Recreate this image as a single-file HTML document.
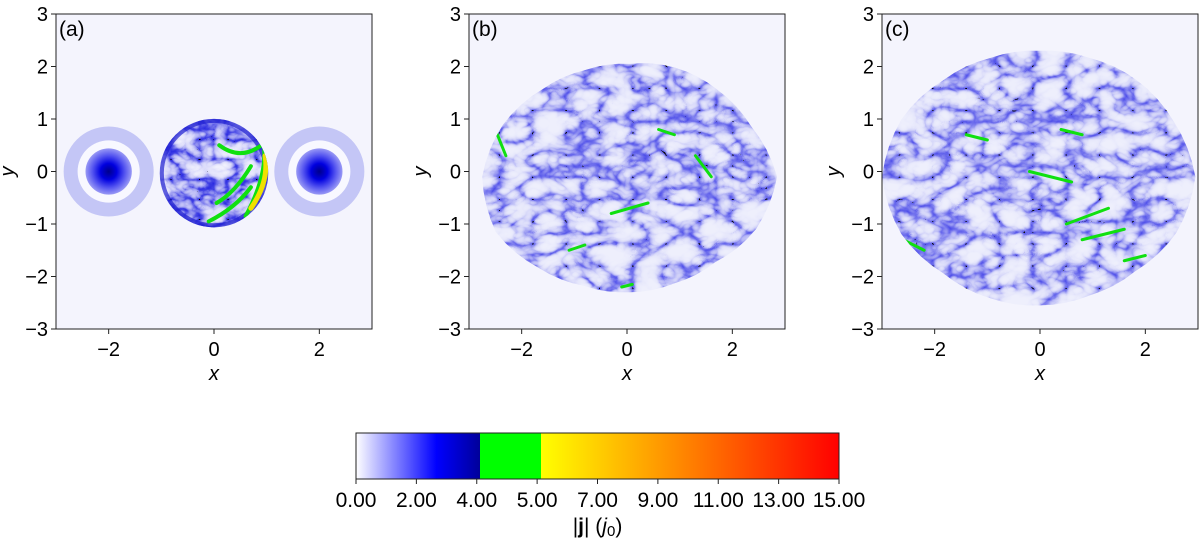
<!DOCTYPE html>
<html><head><meta charset="utf-8"><style>
body{margin:0;background:#fff;}
svg{display:block;font-family:"Liberation Sans",sans-serif;}
</style></head><body>
<svg id="fig" width="1200" height="544" viewBox="0 0 1200 544">
<defs>
<filter id="turbA" x="0" y="0" width="1" height="1">
<feTurbulence type="turbulence" baseFrequency="0.035 0.05" numOctaves="3" seed="4"/>
<feColorMatrix type="matrix" values="0 0 0 0 0.02 0 0 0 0 0.02 0 0 0 0 0.75 1.6 0 0 0 0"/>
<feComponentTransfer><feFuncA type="table" tableValues="1 0.85 0.5 0.25 0.1 0.05 0"/></feComponentTransfer>
</filter>
<filter id="turbB" x="0" y="0" width="1" height="1">
<feTurbulence type="turbulence" baseFrequency="0.03 0.045" numOctaves="3" seed="9"/>
<feColorMatrix type="matrix" values="0 0 0 0 0.05 0 0 0 0 0.05 0 0 0 0 0.8 1.6 0 0 0 0"/>
<feComponentTransfer><feFuncA type="table" tableValues="0.95 0.7 0.35 0.15 0.05 0.02 0"/></feComponentTransfer>
</filter>
<linearGradient id="cbgrad" x1="0" x2="1" y1="0" y2="0">
<stop offset="0" stop-color="#ffffff"/><stop offset="0.3" stop-color="#8888ff"/><stop offset="0.65" stop-color="#0000ff"/><stop offset="1" stop-color="#00009a"/>
</linearGradient>
<linearGradient id="cbgrad2" x1="0" x2="1" y1="0" y2="0">
<stop offset="0" stop-color="#ffff00"/><stop offset="0.4" stop-color="#ff9900"/><stop offset="1" stop-color="#ff0000"/>
</linearGradient>
<radialGradient id="core"><stop offset="0" stop-color="#00008a"/><stop offset="0.35" stop-color="#0000e0"/><stop offset="0.7" stop-color="#5555f0"/><stop offset="1" stop-color="#9a9af5"/></radialGradient>
</defs>
<g id="panels"></g>
<g id="cbar"></g>
</svg>
<script>
const xTicks=[-2,0,2];
const yTicks=[-3,-2,-1,0,1,2,3];
const panelLabels=["(a)","(b)","(c)"];
const panelLefts=[56,469,882];
const cbLabels=["0.00","2.00","4.00","5.00","7.00","9.00","11.00","13.00","15.00"];
const blobB=[2.8,2.5,2.35,2.25,2.15,2.2,2.35,2.6,2.8,2.75,2.45,2.25,2.2,2.2,2.3,2.6];
const blobC=[2.95,2.75,2.6,2.45,2.4,2.45,2.6,2.85,3.0,2.85,2.6,2.5,2.45,2.45,2.55,2.8];
const NS="http://www.w3.org/2000/svg";
const W=316,H=315,TOP=14;
function mk(tag,attrs,parent){const e=document.createElementNS(NS,tag);for(const k in attrs)e.setAttribute(k,attrs[k]);parent.appendChild(e);return e;}
const root=document.getElementById('panels');
function blobPath(sx,sy,r,cx,cy){let d="";const n=r.length,steps=64;
 for(let i=0;i<=steps;i++){const t=i/steps*n;const k=Math.floor(t)%n,f=t-Math.floor(t);
  const rr=(r[k]*(1-f)+r[(k+1)%n]*f);const a=i/steps*2*Math.PI;
  const x=cx+rr*Math.cos(a),y=cy+rr*Math.sin(a);d+=(i?"L":"M")+sx(x).toFixed(1)+","+sy(y).toFixed(1);}return d+"Z";}
panelLefts.forEach((L,p)=>{
 const sx=x=>L+(x+3)/6*W, sy=y=>TOP+(3-y)/6*H;
 const g=mk('g',{},root);
 
 
 mk('rect',{x:L,y:TOP,width:W,height:H,fill:'#f4f4fd'},g);
 const cid='clip'+p;const cp=mk('clipPath',{id:cid},g);
 mk('rect',{x:L,y:TOP,width:W,height:H},cp);
 const inner=mk('g',{'clip-path':'url(#'+cid+')'},g);
 if(p===0){
  [-2,2].forEach(c=>{
   const ring=mk('g',{},inner);
   
   
   mk('circle',{cx:sx(c),cy:sy(0),r:0.855*W/6,fill:'#c4c6f6'},ring);
   mk('circle',{cx:sx(c),cy:sy(0),r:0.59*W/6,fill:'#f8f8ff'},ring);
   mk('circle',{cx:sx(c),cy:sy(0),r:0.44*W/6,fill:'url(#core)'},ring);
  });
  const dc=mk('clipPath',{id:'diskclip'},inner);
  mk('circle',{cx:sx(0),cy:sy(-0.03),r:1.03*W/6},dc);
  const disk=mk('g',{'clip-path':'url(#diskclip)'},inner);
  
  
  mk('rect',{x:sx(-1.1),y:sy(1.1),width:2.2*W/6,height:2.2*W/6,fill:'#f0f0fd'},disk);
  mk('rect',{x:sx(-1.1),y:sy(1.1),width:2.2*W/6,height:2.2*W/6,filter:'url(#turbA)'},disk);
  mk('circle',{cx:sx(0),cy:sy(-0.03),r:1.0*W/6,fill:'none',stroke:'#2020d0','stroke-width':5,opacity:0.7},disk);
  const gs=[[0.95,0.45,1.0,-0.1,0.6,-0.85],[0.9,0.5,0.5,0.2,0.1,0.5],[-0.1,-0.95,0.4,-0.7,0.7,-0.3],[0.05,-0.6,0.4,-0.4,0.7,0.1]];
  gs.forEach((s,i)=>{
   const ln=mk('path',{d:`M${sx(s[0])},${sy(s[1])} Q${sx(s[2])},${sy(s[3])} ${sx(s[4])},${sy(s[5])}`,fill:'none',stroke:'#10e010','stroke-width':4,'stroke-linecap':'round'},disk);
   
   
  });
  const hot=mk('path',{d:`M${sx(0.97)},${sy(0.3)} Q${sx(1.05)},${sy(-0.2)} ${sx(0.7)},${sy(-0.7)}`,fill:'none',stroke:'#f0e000','stroke-width':5,'stroke-linecap':'round'},disk);
  
  
 } else {
  const r=p===1?blobB:blobC;
  const d=blobPath(sx,sy,r,p===1?0.05:0,p===1?-0.1:-0.1);
  const bid='blob'+p;const bc=mk('clipPath',{id:bid},inner);mk('path',{d:d},bc);
  const bl=mk('g',{'clip-path':'url(#'+bid+')'},inner);
  
  
  mk('rect',{x:L,y:TOP,width:W,height:H,fill:'#eeeffc'},bl);
  mk('rect',{x:L,y:TOP,width:W,height:H,filter:'url(#turbB)'},bl);
  const gs=p===1?[[-2.5,0.8,-2.3,0.3],[-0.3,-0.8,0.4,-0.6],[2.3,1.2,2.6,0.8],[1.3,0.3,1.6,-0.1],[-1.1,-1.5,-0.8,-1.4],[0.6,0.8,0.9,0.7],[-0.1,-2.2,0.1,-2.15]]
                   :[[0.5,-1.0,1.3,-0.7],[-0.2,0.0,0.6,-0.2],[0.8,-1.3,1.6,-1.1],[-2.6,-1.3,-2.2,-1.5],[0.4,0.8,0.8,0.7],[-1.4,0.7,-1.0,0.6],[1.6,-1.7,2.0,-1.6]];
  gs.forEach(s=>{
   const ln=mk('path',{d:`M${sx(s[0])},${sy(s[1])} L${sx(s[2])},${sy(s[3])}`,stroke:'#10e010','stroke-width':3,'stroke-linecap':'round'},bl);
   
   
  });
 }
 mk('rect',{x:L,y:TOP,width:W,height:H,fill:'none',stroke:'#222','stroke-width':1},g);
 const lab=mk('text',{x:L+3,y:TOP+22,'font-size':21,fill:'#000'},g);lab.textContent=panelLabels[p];
 
 
 xTicks.forEach(v=>{mk('line',{x1:sx(v),x2:sx(v),y1:TOP+H,y2:TOP+H+5,stroke:'#222'},g);
  const t=mk('text',{x:sx(v),y:TOP+H+27,'font-size':20,'text-anchor':'middle'},g);t.textContent=(v<0?'\u2212':'')+Math.abs(v);
  
  });
 yTicks.forEach(v=>{mk('line',{x1:L-5,x2:L,y1:sy(v),y2:sy(v),stroke:'#222'},g);
  const t=mk('text',{x:L-8,y:sy(v)+7,'font-size':20,'text-anchor':'end'},g);t.textContent=(v<0?'\u2212':'')+Math.abs(v);
  
  });
 const xt=mk('text',{x:sx(0),y:TOP+H+51,'font-size':20,'font-style':'italic','text-anchor':'middle'},g);xt.textContent='x';
 
 
 const yt=mk('text',{x:0,y:0,'font-size':20,'font-style':'italic','text-anchor':'middle',transform:`translate(${L-42},${sy(0)}) rotate(-90)`},g);yt.textContent='y';
 
 
});
// colorbar
const cb=document.getElementById('cbar');
const CX=356,CW=483,CY=433,CH=46,step=CW/(cbLabels.length-1);
mk('rect',{x:CX,y:CY,width:124,height:CH,fill:'url(#cbgrad)'},cb);
mk('rect',{x:CX+124,y:CY,width:61,height:CH,fill:'#00ff00'},cb);
mk('rect',{x:CX+185,y:CY,width:CW-185,height:CH,fill:'url(#cbgrad2)'},cb);
mk('rect',{x:CX,y:CY,width:CW,height:CH,fill:'none',stroke:'#222'},cb);
cbLabels.forEach((s,i)=>{const x=CX+i*step;mk('line',{x1:x,x2:x,y1:CY+CH,y2:CY+CH+5,stroke:'#222'},cb);
 const t=mk('text',{x:x,y:CY+CH+28,'font-size':21,'text-anchor':'middle'},cb);t.textContent=s;
 
 });
const ct=mk('text',{x:CX+CW/2,y:CY+CH+54,'font-size':21,'text-anchor':'middle'},cb);
ct.innerHTML='|<tspan font-weight="bold">j</tspan>| (<tspan font-style="italic">j</tspan><tspan font-size="15" dy="3">0</tspan><tspan dy="-3">)</tspan>';


</script>
</body></html>
